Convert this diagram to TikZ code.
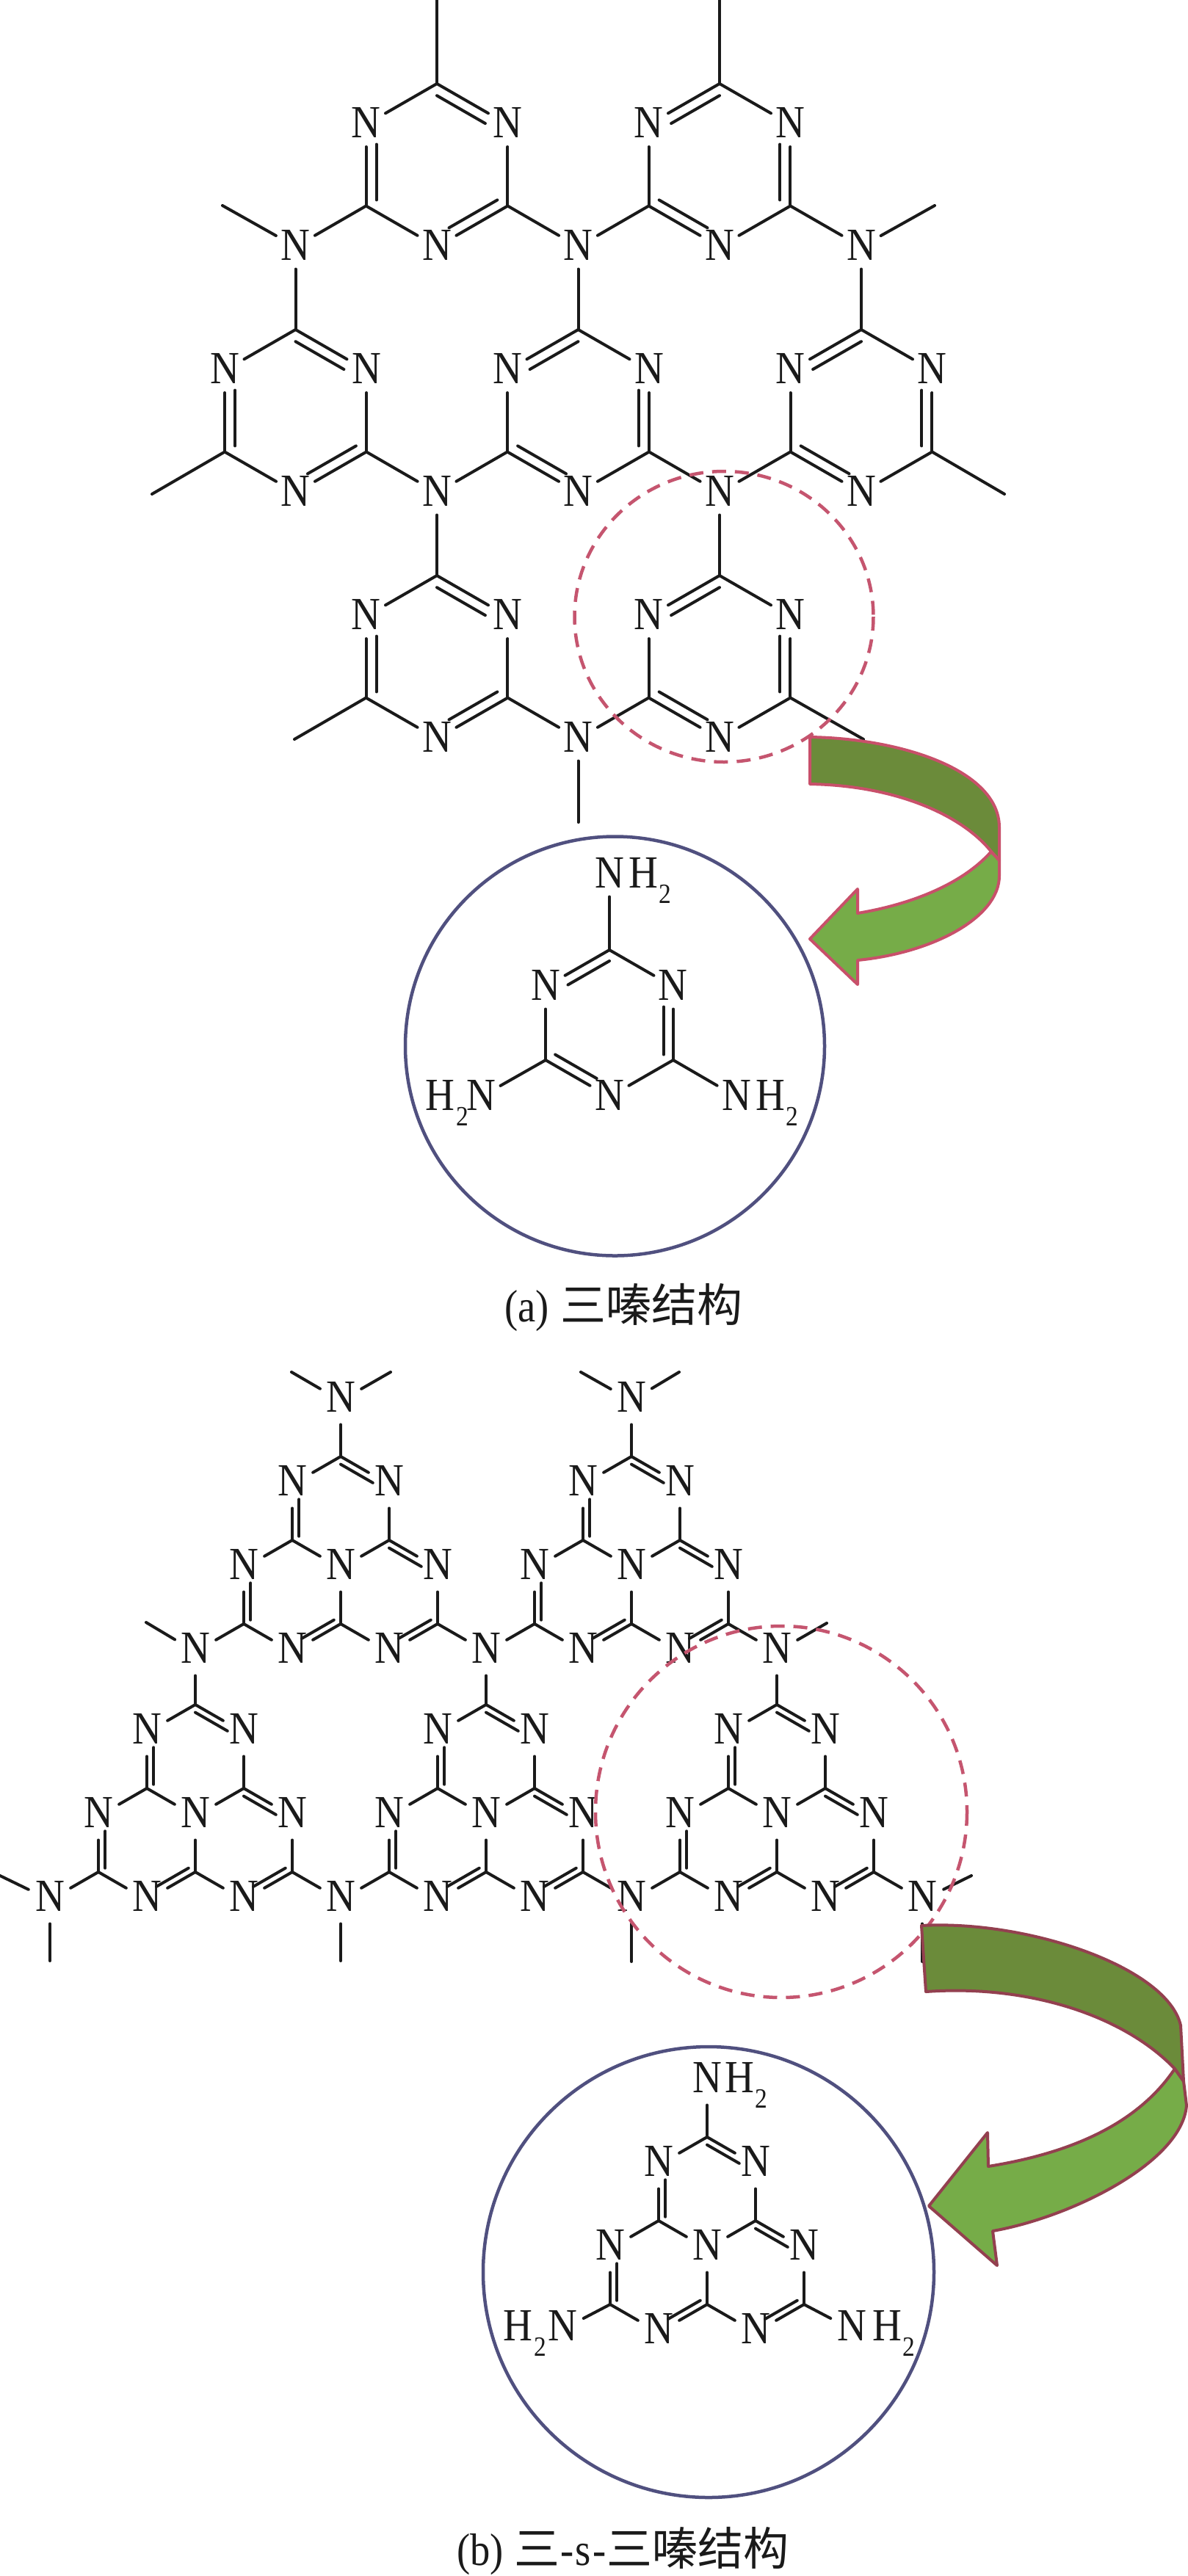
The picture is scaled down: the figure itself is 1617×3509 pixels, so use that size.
\documentclass[tikz,border=0pt]{standalone}
\usepackage{fontspec}
\usetikzlibrary{calc}
\setmainfont{Liberation Serif}
\newfontfamily\chemf[FakeStretch=0.88]{Liberation Serif}
\newfontfamily\cjkf{Noto Sans CJK SC}
\definecolor{ink}{HTML}{1A1A1A}
\definecolor{dashred}{HTML}{C5556F}
\definecolor{navy}{HTML}{50507F}
\definecolor{darkgreen}{HTML}{6B8B3A}
\definecolor{lightgreen}{HTML}{76AC48}
\definecolor{edgeA}{HTML}{C8506A}
\definecolor{edgeB}{HTML}{93404F}
\tikzset{
  bond/.style={draw=ink,line width=4pt,line cap=round},
  chemtext/.style={font=\chemf\fontsize{62.7}{70}\selectfont,text=ink,inner sep=0pt,outer sep=0pt},
  atomA/.style={chemtext,circle,minimum size=54pt,text height=41.5pt,text depth=5pt},
  atomB/.style={chemtext,circle,minimum size=36pt,text height=41.5pt,text depth=10pt},
  hlabel/.style={chemtext},
  ringdash/.style={draw=dashred,line width=4.5pt,dash pattern=on 19pt off 12pt},
  ringnavy/.style={draw=navy,line width=4.5pt},
  caption/.style={font=\chemf\fontsize{62}{70}\selectfont,text=ink,inner sep=0pt,anchor=base west},
}
\newcommand\dfr{.146}
\newcommand\dshort{21pt}
\newcommand\sbd[2]{\draw[bond] (#1) -- (#2);}
\newcommand\dbd[3]{\draw[bond] (#1) -- (#2);
  \draw[bond,shorten >=\dshort] ($(#1)!\dfr!(#3)$) -- ($(#2.center)!\dfr!(#3)$);}
% triazine ring: name, cx, cy, R, atom style
\newcommand\trzbase[5]{%
  \coordinate (#1-o) at (#2,#3);
  \coordinate (#1-a) at (#2,#3-#4);
  \node[#5] (#1-b) at (#2+.869*#4,#3-.5*#4) {N};
  \coordinate (#1-c) at (#2+.869*#4,#3+.5*#4);
  \node[#5] (#1-d) at (#2,#3+#4) {N};
  \coordinate (#1-e) at (#2-.869*#4,#3+.5*#4);
  \node[#5] (#1-f) at (#2-.869*#4,#3-.5*#4) {N};
}
\newcommand\trzN[5]{\trzbase{#1}{#2}{#3}{#4}{#5}%
  \dbd{#1-a}{#1-b}{#1-o}\sbd{#1-a}{#1-f}\sbd{#1-c}{#1-b}
  \dbd{#1-c}{#1-d}{#1-o}\sbd{#1-e}{#1-d}\dbd{#1-e}{#1-f}{#1-o}}
\newcommand\trzM[5]{\trzbase{#1}{#2}{#3}{#4}{#5}%
  \sbd{#1-a}{#1-b}\dbd{#1-a}{#1-f}{#1-o}\dbd{#1-c}{#1-b}{#1-o}
  \sbd{#1-c}{#1-d}\dbd{#1-e}{#1-d}{#1-o}\sbd{#1-e}{#1-f}}
% heptazine unit: name, cx, cy of the central N
\newcommand\hep[3]{%
  \coordinate (#1-ot) at (#2,#3-76);
  \coordinate (#1-ol) at (#2-66,#3+38);
  \coordinate (#1-or) at (#2+66,#3+38);
  \coordinate (#1-a) at (#2,#3-152);
  \node[atomB] (#1-b) at (#2+66,#3-114) {N};
  \coordinate (#1-c) at (#2+66,#3-38);
  \node[atomB] (#1-d) at (#2,#3) {N};
  \coordinate (#1-e) at (#2-66,#3-38);
  \node[atomB] (#1-f) at (#2-66,#3-114) {N};
  \node[atomB] (#1-g) at (#2+132,#3) {N};
  \coordinate (#1-h) at (#2+132,#3+76);
  \node[atomB] (#1-i) at (#2+66,#3+114) {N};
  \coordinate (#1-j) at (#2,#3+76);
  \node[atomB] (#1-k) at (#2-66,#3+114) {N};
  \coordinate (#1-l) at (#2-132,#3+76);
  \node[atomB] (#1-m) at (#2-132,#3) {N};
  \dbd{#1-a}{#1-b}{#1-ot}\sbd{#1-a}{#1-f}\sbd{#1-c}{#1-b}
  \dbd{#1-e}{#1-f}{#1-ot}\sbd{#1-c}{#1-d}\sbd{#1-e}{#1-d}
  \dbd{#1-c}{#1-g}{#1-or}\sbd{#1-e}{#1-m}\sbd{#1-h}{#1-g}
  \dbd{#1-h}{#1-i}{#1-or}\sbd{#1-j}{#1-i}\dbd{#1-j}{#1-k}{#1-ol}
  \sbd{#1-j}{#1-d}\sbd{#1-l}{#1-k}\dbd{#1-l}{#1-m}{#1-ol}}
\newcommand\Hsub{H\kern2pt\raisebox{-21pt}{\chemf\fontsize{38}{40}\selectfont 2}}
\begin{document}
\begin{tikzpicture}[x=1pt,y=-1pt]
\useasboundingbox[fill=white] (0,0) rectangle (1617,3509);

% ---- (a) triazine network ----
\renewcommand\dfr{.146}\renewcommand\dshort{19pt}
\trzN{T1}{595}{225}{111}{atomA}
\trzM{T2}{980}{225}{111}{atomA}
\trzN{L2}{402.5}{560}{111}{atomA}
\trzM{C2}{787.5}{560}{111}{atomA}
\trzM{R2}{1173}{560}{111}{atomA}
\trzN{L3}{595}{895}{111}{atomA}
\trzM{R3}{980}{895}{111}{atomA}
\node[atomA] (na1) at (402.5,336) {N};
\node[atomA] (na2) at (787.5,336) {N};
\node[atomA] (na3) at (1173,336) {N};
\node[atomA] (na4) at (595,671) {N};
\node[atomA] (na5) at (980,671) {N};
\node[atomA] (na6) at (787.5,1006) {N};
\coordinate (ma1) at (595,0);
\coordinate (ma2) at (980,0);
\coordinate (ma3) at (303,280);
\coordinate (ma4) at (1273,280);
\coordinate (ma5) at (207,673);
\coordinate (ma6) at (1368,673);
\coordinate (ma7) at (401,1007);
\coordinate (ma8) at (1176,1007);
\coordinate (ma9) at (787.5,1120);
\sbd{T1-a}{ma1}\sbd{T2-a}{ma2}
\sbd{T1-e}{na1}\sbd{L2-a}{na1}\sbd{ma3}{na1}
\sbd{T1-c}{na2}\sbd{T2-e}{na2}\sbd{C2-a}{na2}
\sbd{T2-c}{na3}\sbd{R2-a}{na3}\sbd{ma4}{na3}
\sbd{L2-c}{na4}\sbd{C2-e}{na4}\sbd{L3-a}{na4}
\sbd{C2-c}{na5}\sbd{R2-e}{na5}\sbd{R3-a}{na5}
\sbd{L3-c}{na6}\sbd{R3-e}{na6}\sbd{ma9}{na6}
\sbd{L2-e}{ma5}\sbd{R2-c}{ma6}\sbd{L3-e}{ma7}\sbd{R3-c}{ma8}

% melamine inset
\renewcommand\dfr{.15}\renewcommand\dshort{20pt}
\trzM{Ia}{830}{1394}{100}{atomA}
\node[atomA] (ia1) at (830,1191) {N};
\node[atomA] (ia2) at (1003,1494) {N};
\node[atomA] (ia3) at (655,1494) {N};
\node[hlabel,anchor=base west] (ih1) at ($(ia1.center)+(26,18)$) {\Hsub};
\node[hlabel,anchor=base west] (ih2) at ($(ia2.center)+(26,18)$) {\Hsub};
\node[hlabel,anchor=base east] (ih3) at ($(ia3.center)+(-17,18)$) {\Hsub};
\sbd{Ia-a}{ia1}\sbd{Ia-c}{ia2}\sbd{Ia-e}{ia3}

% ---- (b) heptazine network ----
\renewcommand\dfr{.14}\renewcommand\dshort{15pt}
\hep{A}{464}{2136}
\hep{B}{860}{2136}
\hep{C}{266}{2474}
\hep{D}{662}{2474}
\hep{E}{1058}{2474}
\node[atomB] (q1) at (464,1908) {N};
\node[atomB] (q2) at (860,1908) {N};
\node[atomB] (p1) at (266,2250) {N};
\node[atomB] (p2) at (662,2250) {N};
\node[atomB] (p3) at (1058,2250) {N};
\node[atomB] (r1) at (68,2588) {N};
\node[atomB] (r2) at (464,2588) {N};
\node[atomB] (r3) at (860,2588) {N};
\node[atomB] (r4) at (1256,2588) {N};
\coordinate (mb1) at (397,1869);
\coordinate (mb2) at (532,1869);
\coordinate (mb3) at (791,1869);
\coordinate (mb4) at (925,1869);
\coordinate (mb5) at (199,2210);
\coordinate (mb6) at (1126,2211);
\coordinate (mb7) at (0,2555);
\coordinate (mb8) at (68,2671);
\coordinate (mb9) at (464,2671);
\coordinate (mb10) at (860,2672);
\coordinate (mb11) at (1323,2555);
\coordinate (mb12) at (1256,2672);
\sbd{A-a}{q1}\sbd{mb1}{q1}\sbd{mb2}{q1}
\sbd{B-a}{q2}\sbd{mb3}{q2}\sbd{mb4}{q2}
\sbd{A-l}{p1}\sbd{C-a}{p1}\sbd{mb5}{p1}
\sbd{A-h}{p2}\sbd{B-l}{p2}\sbd{D-a}{p2}
\sbd{B-h}{p3}\sbd{E-a}{p3}\sbd{mb6}{p3}
\sbd{C-l}{r1}\sbd{mb7}{r1}\sbd{mb8}{r1}
\sbd{C-h}{r2}\sbd{D-l}{r2}\sbd{mb9}{r2}
\sbd{D-h}{r3}\sbd{E-l}{r3}\sbd{mb10}{r3}
\sbd{E-h}{r4}\sbd{mb11}{r4}\sbd{mb12}{r4}

% heptazine inset
\hep{I}{963}{3063}
\node[atomB] (ib1) at (963,2835) {N};
\node[atomB] (ib2) at (1160,3173) {N};
\node[atomB] (ib3) at (766,3173) {N};
\node[hlabel,anchor=base west] (ibh1) at ($(ib1.center)+(24,15)$) {\Hsub};
\node[hlabel,anchor=base west] (ibh2) at ($(ib2.center)+(28,15)$) {\Hsub};
\node[hlabel,anchor=base east] (ibh3) at ($(ib3.center)+(-22,15)$) {\Hsub};
\sbd{I-a}{ib1}\sbd{I-h}{ib2}\sbd{I-l}{ib3}

% circles
\draw[ringdash] (986,840) ellipse [x radius=203.5,y radius=198];
\draw[ringnavy] (837.5,1425) circle [radius=285.5];
\draw[ringdash] (1064,2468) ellipse [x radius=253,y radius=253];
\draw[ringnavy] (965,3095) circle [radius=307];

% curved arrow (a)
\draw[draw=edgeA,line width=4pt,line join=round,fill=lightgreen]
  (1350,1160) .. controls (1310,1205) and (1240,1232) .. (1168,1244)
  -- (1168,1211) -- (1103,1279) -- (1168,1341) -- (1168,1308)
  .. controls (1270,1298) and (1361,1250) .. (1361,1193)
  -- (1361,1172) -- cycle;
\draw[draw=edgeA,line width=4pt,line join=round,fill=darkgreen]
  (1103,1004) .. controls (1230,1006) and (1361,1050) .. (1361,1127)
  -- (1361,1172) -- (1350,1160)
  .. controls (1310,1110) and (1220,1070) .. (1103,1068) -- cycle;

% curved arrow (b)
\draw[draw=edgeB,line width=4pt,line join=round,fill=lightgreen]
  (1600,2818) .. controls (1545,2900) and (1445,2935) .. (1346,2951)
  -- (1345,2905) -- (1265,3005) -- (1358,3086) -- (1352,3039)
  .. controls (1460,3020) and (1610,2945) .. (1616,2868)
  -- (1612,2835) -- cycle;
\draw[draw=edgeB,line width=4pt,line join=round,fill=darkgreen]
  (1255,2623) .. controls (1400,2615) and (1590,2680) .. (1608,2759)
  -- (1612,2835) -- (1600,2818)
  .. controls (1530,2745) and (1400,2703) .. (1261,2713) -- cycle;

% captions
\node[caption] (capa) at (687,1800) {(a)\kern16pt{\cjkf 三嗪结构}};
\node[caption] (capb) at (622,3494) {(b)\kern15pt{\cjkf 三}\kern1pt-\kern2pt s\kern2pt-\kern1pt{\cjkf 三嗪结构}};
\end{tikzpicture}
\end{document}
